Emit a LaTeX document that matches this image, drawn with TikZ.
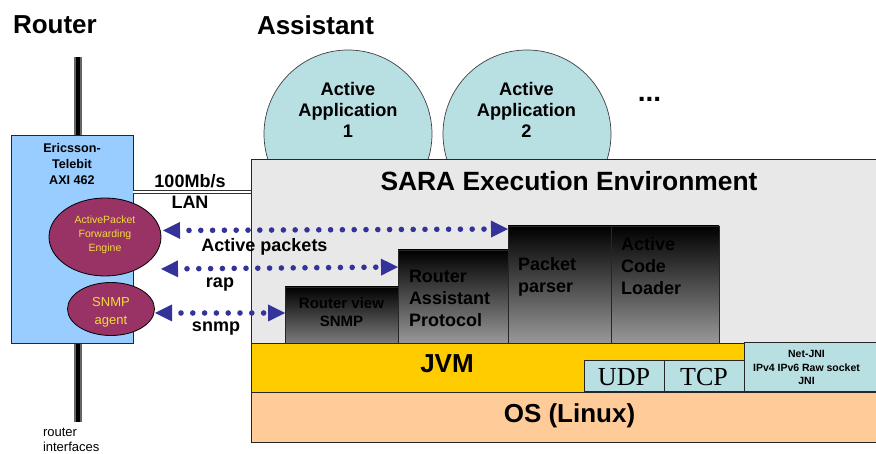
\documentclass[tikz,border=0pt]{standalone}
\usepackage{fontspec}
\setmainfont{Liberation Sans}
\newfontfamily\serifface{Liberation Serif}
\usetikzlibrary{arrows.meta,shapes.geometric}
\definecolor{aqua}{HTML}{B8DFE2}
\definecolor{envgray}{HTML}{E8E8E8}
\definecolor{routerblue}{HTML}{99CCFF}
\definecolor{plum}{HTML}{993366}
\definecolor{gold}{HTML}{FFCC00}
\definecolor{peach}{HTML}{FFCC99}
\definecolor{arrowblue}{HTML}{333399}
\definecolor{palette}{HTML}{F0DC3C}
\definecolor{fadeend}{HTML}{989898}
\definecolor{fadeendb}{HTML}{7C7C7C}
\pgfdeclareverticalshading{blackfade}{100bp}{color(0bp)=(fadeend); color(25bp)=(fadeend); color(75bp)=(black); color(100bp)=(black)}
\pgfdeclareverticalshading{blackfadeb}{100bp}{color(0bp)=(fadeendb); color(25bp)=(fadeendb); color(75bp)=(black); color(100bp)=(black)}
\newcommand{\fs}[1]{\fontsize{#1}{#1}\selectfont}
\tikzset{
  every node/.style={inner sep=0pt,outer sep=0pt},
  box/.style={draw=black!85,line width=0.9pt,rectangle,anchor=north west},
  stack/.style={box,shading=blackfade},
  stackb/.style={box,shading=blackfadeb},
  stacktext/.style={text=black},
  app/.style={circle,draw=black!75,line width=0.7pt,fill=aqua,minimum size=168pt},
  engine/.style={ellipse,draw=black,line width=0.8pt,fill=plum},
  engtext/.style={text=palette,align=center},
  dotted link/.style={arrowblue,line width=5.6pt,line cap=round,
     dash pattern=on 0pt off 11.8pt,dash phase=2.8pt,
     {Triangle[length=17pt,width=17pt,line width=0pt]}-{Triangle[length=17pt,width=17pt,line width=0pt]}},
  lbl/.style={text=black,align=center},
  proto/.style={box,fill=aqua,minimum width=80pt,minimum height=31pt,
     font=\serifface\fs{26},text height=19.5pt,text depth=0pt},
}
\begin{document}
\begin{tikzpicture}[x=1pt,y=-1pt]
\useasboundingbox (0,0) rectangle (876,454);
% uplink lines
\coordinate (upT) at (78,57);
\coordinate (upB) at (78,422);
\draw[black!60,line width=8.6pt] (upT) -- (upB);
\draw[white,line width=4.8pt] (upT) -- (upB);
\draw[black,line width=3.4pt] (upT) -- (upB);
% applications
\node[app] (app1) at (348,134) {};
\node[app] (app2) at (527,134) {};
\node[lbl,font=\bfseries\fs{18.2}] (app1t) at (348,110) {Active\\[3pt]Application\\[3pt]1};
\node[lbl,font=\bfseries\fs{18.2}] (app2t) at (526.5,110) {Active\\[3pt]Application\\[3pt]2};
\node[lbl,font=\bfseries\fs{28}] (more) at (649.5,99.5) {...};
% execution env
\node[box,fill=envgray,minimum width=626pt,minimum height=184pt] (env) at (251,159) {};
\node[lbl,font=\bfseries\fs{26.4}] (envt) at (569,181) {SARA Execution Environment};
% router
\node[box,fill=routerblue,minimum width=122pt,minimum height=208pt] (router) at (11,135) {};
\node[lbl,font=\bfseries\fs{12.6}] (rt) at (72,164) {Ericsson-\\[3.4pt]Telebit\\[3.4pt]AXI 462};
\node[engine,minimum width=112pt,minimum height=78pt] (fe) at (105,237) {};
\node[engtext,font=\fs{10.5}] (fet) at (105,234.5) {ActivePacket\\[3.5pt]Forwarding\\[3.5pt]Engine};
\node[engine,minimum width=87pt,minimum height=53pt] (snmp) at (111,309) {};
\node[engtext,font=\fs{13}] (snmpt) at (111,312) {SNMP\\[5pt]agent};
% LAN
\coordinate (lanL) at (133,192);
\coordinate (lanR) at (251,192);
\draw[black!80,line width=3.8pt] (lanL) -- (lanR);
\draw[white,line width=1.2pt] (lanL) -- (lanR);
\node[lbl,font=\bfseries\fs{18}] (lan1) at (190,181) {100Mb/s};
\node[lbl,font=\bfseries\fs{18}] (lan2) at (190,202) {LAN};
% stacks
\node[stackb,minimum width=113pt,minimum height=56pt] (s1) at (285,287) {};
\node[stack,minimum width=110pt,minimum height=93pt] (s2) at (398,250) {};
\node[stack,minimum width=103pt,minimum height=117pt] (s3) at (508,226) {};
\node[stack,minimum width=108pt,minimum height=117pt] (s4) at (611,226) {};
\node[stacktext,align=center,font=\bfseries\fs{15}] (s1t) at (341.5,312) {Router view\\[3pt]SNMP};
\node[stacktext,align=left,anchor=west,font=\bfseries\fs{18}] (s2t) at (409,298.5) {Router\\[4pt]Assistant\\[4pt]Protocol};
\node[stacktext,align=left,anchor=west,font=\bfseries\fs{18}] (s3t) at (518,277) {Packet\\[4pt]parser};
\node[stacktext,align=left,anchor=west,font=\bfseries\fs{18}] (s4t) at (621,266) {Active\\[4pt]Code\\[4pt]Loader};
% base
\node[box,fill=gold,minimum width=493pt,minimum height=49pt] (jvm) at (251,343) {};
\node[lbl,font=\bfseries\fs{26}] (jvmt) at (447,364) {JVM};
\node[proto] (udp) at (584,360) {UDP};
\node[proto] (tcp) at (664,360) {TCP};
\node[box,fill=aqua,minimum width=133pt,minimum height=49pt] (net) at (744,342) {};
\node[lbl,font=\bfseries\fs{10.5}] (nett) at (806.5,367.5) {Net-JNI\\[3pt]IPv4 IPv6 Raw socket\\[3pt]JNI};
\node[box,fill=peach,minimum width=626pt,minimum height=50pt] (os) at (251,392) {};
\node[lbl,font=\bfseries\fs{26}] (ost) at (569.5,416) {OS (Linux)};
% arrows
\coordinate (a1L) at (163,230.5);
\coordinate (a1R) at (508,229);
\coordinate (a2L) at (161,269);
\coordinate (a2R) at (398,267);
\coordinate (a3L) at (155,313);
\coordinate (a3R) at (285,313);
\draw[dotted link] (a1L) -- (a1R);
\draw[dotted link] (a2L) -- (a2R);
\draw[dotted link] (a3L) -- (a3R);
\node[lbl,font=\bfseries\fs{18}] (l1) at (264.5,246.5) {Active packets};
\node[lbl,font=\bfseries\fs{18}] (l2) at (220,285) {rap};
\node[lbl,font=\bfseries\fs{18}] (l3) at (216,329) {snmp};
% titles
\node[lbl,font=\bfseries\fs{26},anchor=west] (t1) at (13,25) {Router};
\node[lbl,font=\bfseries\fs{26},anchor=west] (t2) at (257,25) {Assistant};
\node[align=left,anchor=north west,font=\fs{13}] (t3) at (43,428) {router\\[2pt]interfaces};
\end{tikzpicture}
\end{document}
